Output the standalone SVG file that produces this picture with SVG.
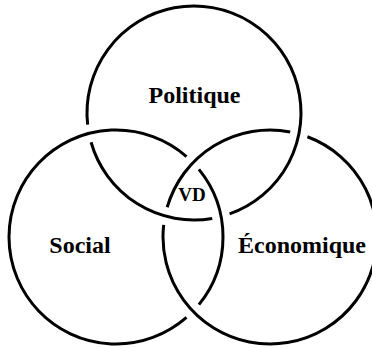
<svg xmlns="http://www.w3.org/2000/svg" width="372" height="348" viewBox="0 0 372 348">
<style>
.ring{fill:none;stroke:#000;stroke-width:3;stroke-linecap:butt}
.lbl{font-family:"Liberation Serif","Times New Roman",serif;font-weight:bold;font-size:24px;fill:#000;text-anchor:middle}
.vd{font-size:19px}
</style>
<rect width="372" height="348" fill="#fff"/>
<g id="connectors">
<g id="ring-politique">
<path class="ring" d="M212.25,218.43 A107,107 0 0 1 91.07,142.22"/>
<path class="ring" d="M87.63,124.65 A107,107 0 1 1 229.58,213.91"/>
</g>
<g id="ring-social">
<path class="ring" d="M186.51,317.48 A107,107 0 1 1 186.51,156.52"/>
<path class="ring" d="M198.94,169.40 A107,107 0 0 1 198.94,304.60"/>
</g>
<g id="ring-economique">
<path class="ring" d="M167.21,207.29 A107,107 0 0 1 290.18,131.92"/>
<path class="ring" d="M307.42,136.76 A107,107 0 1 1 163.69,224.85"/>
</g>
</g>
<g id="politique"><text class="lbl" x="194.5" y="103">Politique</text></g>
<g id="social"><text class="lbl" x="80" y="253">Social</text></g>
<g id="economique"><text class="lbl" x="302" y="253">Économique</text></g>
<g id="vd"><text class="lbl vd" x="192" y="201">VD</text></g>
</svg>
